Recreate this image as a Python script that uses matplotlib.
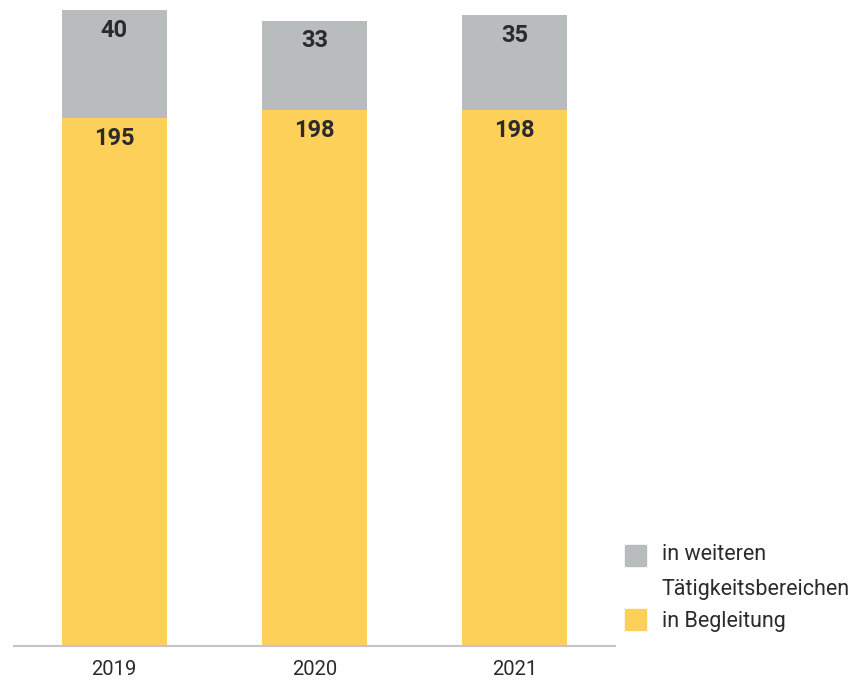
import matplotlib.pyplot as plt
from matplotlib.patches import Rectangle

years = ['2019', '2020', '2021']
begleitung = [195, 198, 198]
weitere = [40, 33, 35]

YELLOW = '#FDD05A'
GREY = '#B9BCBD'
TEXT = '#2b2b2b'

plt.rcParams['font.family'] = ['Roboto', 'DejaVu Sans']

fig = plt.figure(figsize=(8.54, 6.8), dpi=100)
ax = fig.add_axes([14 / 854, 1 - 646 / 680, (615 - 14) / 854, 646 / 680])

x = range(len(years))
b1 = ax.bar(x, begleitung, width=0.524, color=YELLOW, zorder=2)
b2 = ax.bar(x, weitere, width=0.524, bottom=begleitung, color=GREY, zorder=2)

for bars, vals, bottoms in ((b1, begleitung, [0] * 3), (b2, weitere, begleitung)):
    for bar, v, b in zip(bars, vals, bottoms):
        ax.annotate(str(v), (bar.get_x() + bar.get_width() / 2, v + b),
                    xytext=(0, -14.5), textcoords='offset points',
                    ha='center', va='center', fontsize=17, fontweight='bold',
                    color=TEXT)

ax.set_xlim(-0.5, 2.5)
ax.set_ylim(0, 238.7)
ax.set_xticks(list(x))
ax.set_xticklabels(years, fontsize=14.5, color=TEXT)
ax.tick_params(axis='x', length=0, pad=10)
ax.set_yticks([])
for s in ('top', 'right', 'left'):
    ax.spines[s].set_visible(False)
ax.spines['bottom'].set_color('#c4c4c4')
ax.spines['bottom'].set_linewidth(1.5)

# legend
W, H = 854, 680
fig.add_artist(Rectangle((625 / W, 1 - 566 / H), 21 / W, 21 / H,
                         transform=fig.transFigure, color=GREY))
fig.add_artist(Rectangle((625 / W, 1 - 630 / H), 21 / W, 21 / H,
                         transform=fig.transFigure, color=YELLOW))
fig.text(662 / W, 1 - 555 / H, 'in weiteren', fontsize=15.5, color=TEXT, va='center')
fig.text(662 / W, 1 - 589 / H, 'Tätigkeitsbereichen', fontsize=15.5, color=TEXT, va='center')
fig.text(662 / W, 1 - 621 / H, 'in Begleitung', fontsize=15.5, color=TEXT, va='center')

fig.savefig('out.png', dpi=100)
